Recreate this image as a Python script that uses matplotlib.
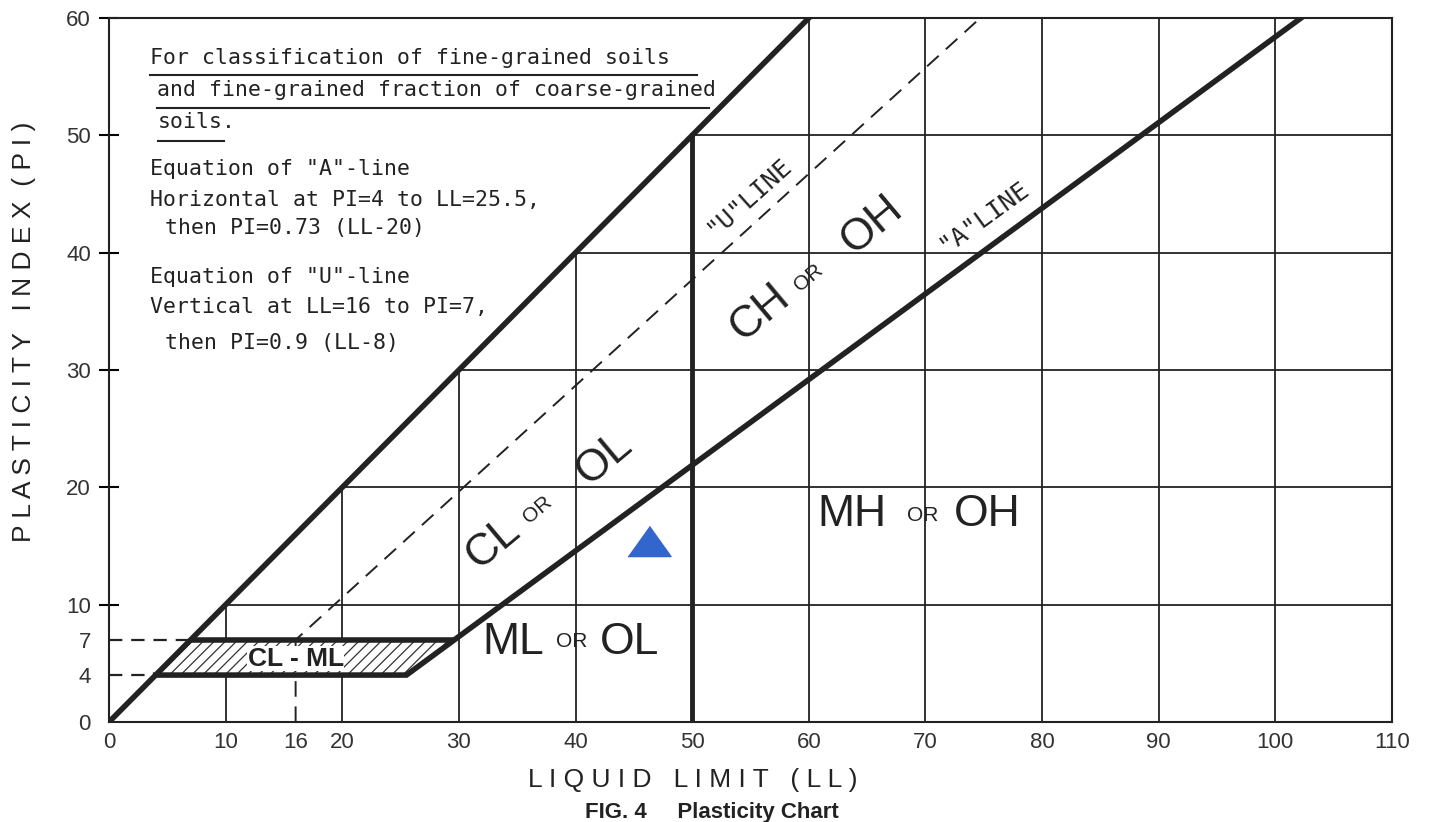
import matplotlib.pyplot as plt
import numpy as np

# axis ticks
ll_ticks = [0, 10, 16, 20, 30, 40, 50, 60, 70, 80, 90, 100, 110]
pi_major = [10, 20, 30, 40, 50, 60]
pi_minor = [0, 4, 7]
grid_vals = [10, 20, 30, 40, 50, 60, 70, 80, 90, 100]

# chart lines (LL, PI)
pi_eq_ll_ll = [0, 60]
pi_eq_ll_pi = [0, 60]
a_line_ll = [4, 25.5, 102.2]
a_line_pi = [4, 4, 60]
u_line_ll = [16, 16, 74.7]
u_line_pi = [0, 7, 60]
ll50_ll = [50, 50]
ll50_pi = [0, 50]
clml_ll = [4, 25.5, 29.6, 7]
clml_pi = [4, 4, 7, 7]

# plotted sample
point_ll = [46.3]
point_pi = [15.4]

plt.rcParams['hatch.linewidth'] = 0.9
plt.rcParams['hatch.color'] = '#333'

fig = plt.figure(figsize=(14.32, 8.22), dpi=100)
ax = fig.add_axes([109/1432, 100/822, 1283/1432, 704/822])
ax.set_xlim(0, 110)
ax.set_ylim(0, 60)

for s in ax.spines.values():
    s.set_linewidth(1.5)
    s.set_color('#222')

# grid only right / below the PI=LL line
for v in grid_vals:
    ax.plot([v, v], [0, min(v, 60)], color='#222', lw=1.3, zorder=1)
    if v <= 60:
        ax.plot([v, 110], [v, v], color='#222', lw=1.3, zorder=1)

# CL-ML hatched zone
ax.fill(clml_ll, clml_pi, facecolor='white', edgecolor='#333', hatch='///', lw=0, zorder=2)
ax.plot([clml_ll[3], clml_ll[2]], [clml_pi[3], clml_pi[2]], color='#222', lw=4, zorder=4,
        solid_capstyle='butt')

# main lines
ax.plot(pi_eq_ll_ll, pi_eq_ll_pi, color='#222', lw=4, zorder=4)
ax.plot(a_line_ll, a_line_pi, color='#222', lw=4, zorder=4, solid_joinstyle='miter')
ax.plot(ll50_ll, ll50_pi, color='#222', lw=3.5, zorder=4)
ax.plot(u_line_ll, u_line_pi, color='#222', lw=1.4, ls=(0, (8, 5)), zorder=3)
ax.plot([0, 4], [4, 4], color='#222', lw=1.6, ls=(0, (6, 4)), zorder=3)
ax.plot([0, 7], [7, 7], color='#222', lw=1.6, ls=(0, (6, 4)), zorder=3)

ax.text(16.0, 5.4, 'CL - ML', fontsize=19, fontweight='bold', family='Liberation Sans',
        ha='center', va='center', color='#222', zorder=5,
        bbox=dict(facecolor='white', edgecolor='none', pad=0.3))

# triangle marker
tri = [(-1, -0.7), (1, -0.7), (0, 0.7)]
ax.plot(point_ll, point_pi, marker=tri, markersize=31, color='#3366cc', ls='none', zorder=6)

# ticks
ax.set_xticks(ll_ticks)
ax.set_xticklabels([str(t) for t in ll_ticks])
ax.set_yticks(pi_major)
ax.set_yticklabels([str(t) for t in pi_major])
ax.set_yticks(pi_minor, minor=True)
ax.set_yticklabels([str(t) for t in pi_minor], minor=True)
ax.tick_params(axis='x', length=0, pad=7, labelsize=16, labelcolor='#333')
ax.tick_params(axis='y', which='major', direction='inout', length=14, width=1.5,
               pad=6, labelsize=16, labelcolor='#333')
ax.tick_params(axis='y', which='minor', length=0, pad=13, labelsize=16, labelcolor='#333')
for lab in ax.get_xticklabels() + ax.get_yticklabels() + ax.get_yticklabels(minor=True):
    lab.set_family('Liberation Sans')

ax.set_xlabel('L I Q U I D   L I M I T   ( L L )', fontsize=19, family='Liberation Sans',
              color='#222', labelpad=12)
ax.xaxis.set_label_coords((693 - 109) / 1283, -0.065)
ax.set_ylabel('P L A S T I C I T Y   I N D E X  ( P I )', fontsize=19,
              family='Liberation Sans', color='#222', labelpad=14)
ax.yaxis.set_label_coords(-0.057, (722 - 332) / 704)

# notes block
note_kw = dict(fontsize=15.5, family='DejaVu Sans Mono', color='#222', ha='left', va='center')
ax.text(3.5, 56.6, 'For classification of fine-grained soils', **note_kw)
ax.text(4.1, 53.9, 'and fine-grained fraction of coarse-grained', **note_kw)
ax.text(4.2, 51.1, 'soils.', **note_kw)
ax.plot([3.5, 50.4], [55.1, 55.1], color='#222', lw=1.5)
ax.plot([4.1, 51.4], [52.3, 52.3], color='#222', lw=1.5)
ax.plot([4.2, 9.9], [49.5, 49.5], color='#222', lw=1.5)
ax.text(3.5, 47.1, 'Equation of "A"-line', **note_kw)
ax.text(3.5, 44.5, 'Horizontal at PI=4 to LL=25.5,', **note_kw)
ax.text(4.8, 42.1, 'then PI=0.73 (LL-20)', **note_kw)
ax.text(3.5, 37.9, 'Equation of "U"-line', **note_kw)
ax.text(3.5, 35.4, 'Vertical at LL=16 to PI=7,', **note_kw)
ax.text(4.8, 32.3, 'then PI=0.9 (LL-8)', **note_kw)

# zone labels
big = dict(fontsize=32, family='Liberation Sans', color='#222', va='center')
small = dict(fontsize=15, family='Liberation Sans', color='#222', va='center')
ax.text(32.0, 6.8, 'ML', ha='left', **big)
ax.text(38.3, 6.9, 'OR', ha='left', **small)
ax.text(42.1, 6.8, 'OL', ha='left', **big)
ax.text(60.7, 17.7, 'MH', ha='left', **big)
ax.text(68.4, 17.6, 'OR', ha='left', **small)
ax.text(72.4, 17.7, 'OH', ha='left', **big)

ax.text(32.9, 15.3, 'CL', ha='center', rotation=40, rotation_mode='anchor', **big)
ax.text(36.7, 18.1, 'OR', ha='center', rotation=40, rotation_mode='anchor', **small)
ax.text(42.5, 22.5, 'OL', ha='center', rotation=40, rotation_mode='anchor', **big)
ax.text(55.8, 34.9, 'CH', ha='center', rotation=40, rotation_mode='anchor', **big)
ax.text(60.0, 37.9, 'OR', ha='center', rotation=40, rotation_mode='anchor', **small)
ax.text(65.4, 42.4, 'OH', ha='center', rotation=40, rotation_mode='anchor', **big)

line_kw = dict(fontsize=18, family='DejaVu Sans Mono', color='#222', ha='center',
               va='center', rotation_mode='anchor')
ax.text(54.9, 44.8, '"U"LINE', rotation=42, **line_kw)
ax.text(75.0, 43.1, '"A"LINE', rotation=36, **line_kw)

fig.text(712/1432, 10/822, 'FIG. 4     Plasticity Chart', fontsize=16, fontweight='bold',
         family='Liberation Sans', ha='center', va='center', color='#222')

fig.savefig('out.png', dpi=100, facecolor='white')
